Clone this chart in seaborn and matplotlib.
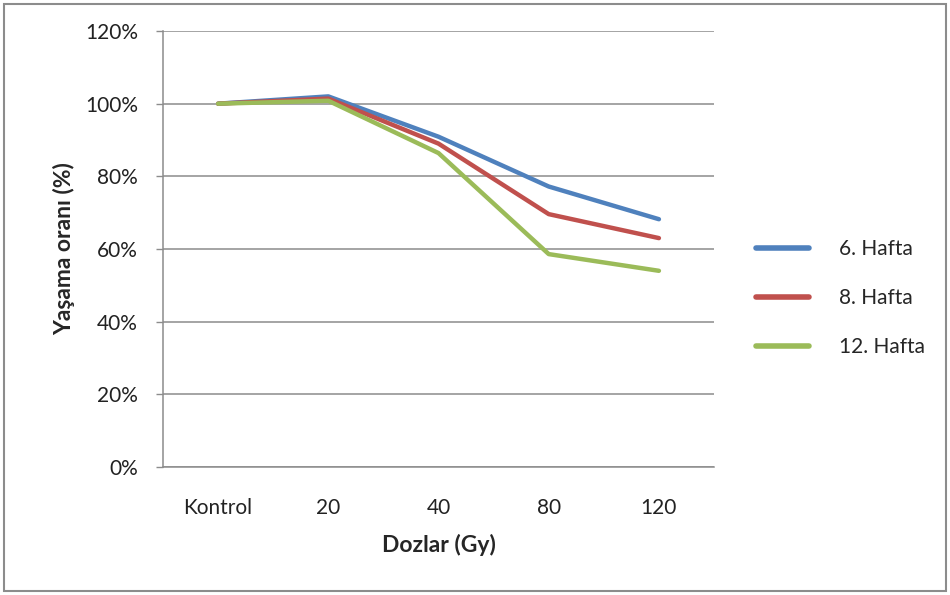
import numpy as np
import pandas as pd
import matplotlib
matplotlib.use("Agg")
import matplotlib.pyplot as plt
import seaborn as sns
from matplotlib.ticker import PercentFormatter, FixedLocator
from matplotlib.patches import Rectangle

# values (survival rate, %)
dozlar = ["Kontrol", "20", "40", "80", "120"]
hafta_6 = [100.0, 102.0, 90.9, 77.2, 68.2]
hafta_8 = [100.0, 101.4, 89.0, 69.6, 63.0]
hafta_12 = [100.0, 100.8, 86.4, 58.6, 54.0]
seriler = ["6. Hafta", "8. Hafta", "12. Hafta"]
renkler = ["#4F81BD", "#C0504D", "#9BBB59"]

df = pd.DataFrame({
    "Doz": dozlar * 3,
    "Oran": hafta_6 + hafta_8 + hafta_12,
    "Hafta": [s for s in seriler for _ in dozlar],
})

sns.set_style("white")
plt.rcParams["font.family"] = ["Lato", "DejaVu Sans"]

fig = plt.figure(figsize=(9.5, 5.95), dpi=100)
ax = fig.add_axes([0.1716, 0.2151, 0.5800, 0.7328])

sns.lineplot(data=df, x="Doz", y="Oran", hue="Hafta", hue_order=seriler,
             palette=renkler, linewidth=3.2, sort=False, ax=ax)

ax.set_ylim(0, 120)
ax.set_xlim(-0.5, 4.5)
ax.set_yticks(np.arange(0, 121, 20))
ax.yaxis.set_major_formatter(PercentFormatter(decimals=0))
ax.grid(axis="y", color="#8c8c8c", linewidth=1.1)
ax.set_axisbelow(True)

ax.tick_params(axis="x", which="major", length=0, pad=22, labelsize=15, colors="#222222")
ax.xaxis.set_minor_locator(FixedLocator(np.arange(-0.5, 4.6, 1)))
ax.tick_params(axis="x", which="minor", length=8, width=1, color="#8c8c8c", direction="out")
ax.tick_params(axis="y", length=5, width=1, color="#8c8c8c", pad=13, labelsize=15,
               colors="#222222", left=True)

for s in ["top", "right"]:
    ax.spines[s].set_visible(False)
for s in ["left", "bottom"]:
    ax.spines[s].set_color("#8c8c8c")
    ax.spines[s].set_linewidth(1.1)

ax.set_xlabel("Dozlar (Gy)", fontsize=16.5, fontweight="bold", labelpad=12)
ax.set_ylabel("Yaşama oranı (%)", fontsize=16.5, fontweight="bold", labelpad=7)

leg = ax.legend(title=None, frameon=False, loc="center left",
                bbox_to_anchor=(1.042, 0.387), fontsize=15, handlelength=2.55,
                handletextpad=1.45, labelspacing=1.4)
for line in leg.get_lines():
    line.set_linewidth(4)
    line.set_solid_capstyle("round")

fig.patches.append(Rectangle((0.004, 0.007), 0.992, 0.986, transform=fig.transFigure,
                             fill=False, edgecolor="#8c8c8c", linewidth=1.5))

fig.savefig("out.png", dpi=100)
